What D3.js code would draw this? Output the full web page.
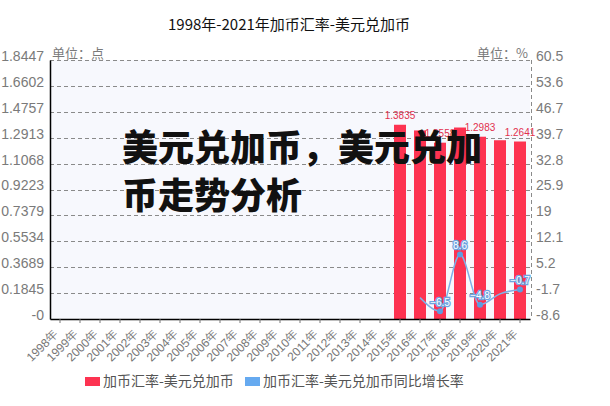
<!DOCTYPE html>
<html><head><meta charset="utf-8">
<script src="https://cdn.jsdelivr.net/npm/d3@7/dist/d3.min.js"></script>
<style>
body{margin:0;background:#fff;}
svg{display:block;}
</style></head>
<body>
<svg id="chart" width="610" height="406"></svg>
<script>
const years = ['1998年','1999年','2000年','2001年','2002年','2003年','2004年','2005年','2006年','2007年','2008年','2009年','2010年','2011年','2012年','2013年','2014年','2015年','2016年','2017年','2018年','2019年','2020年','2021年'];
const rateValues = [null,null,null,null,null,null,null,null,null,null,null,null,null,null,null,null,null,1.3835,1.3431,1.2558,1.3638,1.2983,1.2732,1.2641];
const growthValues = [null,null,null,null,null,null,null,null,null,null,null,null,null,null,null,null,null,null,-2.9,-6.5,8.6,-4.8,-1.9,-0.7];
const leftTickLabels = ['-0','0.1845','0.3689','0.5534','0.7379','0.9223','1.1068','1.2913','1.4757','1.6602','1.8447'];
const rightTickLabels = ['-8.6','-1.7','5.2','12.1','19','25.9','32.8','39.7','46.7','53.6','60.5'];
const leftDomain = [0, 1.8447];
const rightDomain = [-8.6, 60.5];
const titleText = '1998年-2021年加币汇率-美元兑加币';
const seriesNames = ['加币汇率-美元兑加币','加币汇率-美元兑加币同比增长率'];
const overlayLines = ['美元兑加币，美元兑加','币走势分析'];

const svg = d3.select('#chart');
const L = 50, R = 530, T = 60, B = 319;
const barColor = '#fd3351', lineColor = '#7fb0e6', pointColor = '#5d9de0';
const font = '"Liberation Sans", Arial, sans-serif';
const cjk = '"Noto Sans CJK SC", "Liberation Sans", sans-serif';

const x = d3.scaleBand().domain(years).range([L, R]).paddingInner(0.4).paddingOuter(0.2);
const yL = d3.scaleLinear().domain(leftDomain).range([B, T]);
const yR = d3.scaleLinear().domain(rightDomain).range([B, T]);
const nT = leftTickLabels.length;
const lTicks = d3.range(nT).map(i => leftDomain[0] + i * (leftDomain[1] - leftDomain[0]) / (nT - 1));
const rTicks = d3.range(nT).map(i => rightDomain[0] + i * (rightDomain[1] - rightDomain[0]) / (nT - 1));

// title
svg.append('text').attr('x', 289).attr('y', 30).attr('text-anchor', 'middle')
  .style('font-family', cjk).style('font-size', '15px').attr('fill', '#111').text(titleText);

// plot background
svg.append('rect').attr('x', L).attr('y', T).attr('width', R - L).attr('height', B - T).attr('fill', '#f7f8fd');

// grid
svg.append('g').selectAll('line').data(lTicks.slice(1)).join('line')
  .attr('x1', L).attr('x2', R + 1).attr('y1', d => Math.round(yL(d)) + 0.5).attr('y2', d => Math.round(yL(d)) + 0.5)
  .attr('stroke', '#8a8a8a').attr('stroke-dasharray', '4,3');
svg.append('line').attr('x1', R + 1.5).attr('x2', R + 1.5).attr('y1', T).attr('y2', B)
  .attr('stroke', '#8a8a8a').attr('stroke-dasharray', '4,3');

// bars
const rows = years.map((y, i) => ({ year: y, rate: rateValues[i], growth: growthValues[i] }));
svg.append('g').selectAll('rect').data(rows.filter(d => d.rate != null)).join('rect')
  .attr('x', d => x(d.year)).attr('width', x.bandwidth())
  .attr('y', d => yL(d.rate)).attr('height', d => B - yL(d.rate)).attr('fill', barColor);

// axes
const gL = svg.append('g').attr('transform', `translate(${L},0)`)
  .call(d3.axisLeft(yL).tickValues(lTicks).tickFormat((d, i) => leftTickLabels[i]).tickSize(0).tickPadding(6));
gL.select('.domain').attr('stroke', '#000').attr('stroke-width', 1.5);
gL.selectAll('text').style('font-family', font).style('font-size', '14px').attr('fill', '#7a7a7a').attr('y', -4);

const gR = svg.append('g').attr('transform', `translate(${R + 1},0)`)
  .call(d3.axisRight(yR).tickValues(rTicks).tickFormat((d, i) => rightTickLabels[i]).tickSize(0).tickPadding(5));
gR.select('.domain').remove();
gR.selectAll('text').style('font-family', font).style('font-size', '14px').attr('fill', '#7a7a7a').attr('y', -4);

const gB = svg.append('g').attr('transform', `translate(0,${B})`)
  .call(d3.axisBottom(x).tickSize(4).tickSizeOuter(0));
gB.select('.domain').attr('stroke', '#000').attr('stroke-width', 1.5);
gB.selectAll('.tick line').attr('stroke', '#777');
gB.selectAll('text').style('font-family', font).style('font-size', '12px').attr('fill', '#777')
  .attr('text-anchor', 'end').attr('dy', '0.35em')
  .attr('transform', 'translate(-4,13) rotate(-45)').attr('y', 0).attr('x', 0);

// units
svg.append('text').attr('x', 52).attr('y', 58).style('font-family', cjk).style('font-size', '13px').attr('fill', '#7a7a7a').text('单位：点');
svg.append('text').attr('x', 528).attr('y', 58).attr('text-anchor', 'end').style('font-family', cjk).style('font-size', '13px').attr('fill', '#7a7a7a').text('单位：%');

// label collision (greedy from last point)
function pickVisible(items, w, h) {
  const shown = [];
  for (let i = items.length - 1; i >= 0; i--) {
    const a = items[i];
    const hit = shown.some(b => Math.abs(a.cx - b.cx) < w && Math.abs(a.cy - b.cy) < h);
    if (!hit) { a.show = true; shown.push(a); } else a.show = false;
  }
  return items;
}

// bar labels
const barLabs = pickVisible(rows.filter(d => d.rate != null).map(d => ({
  cx: x(d.year) + x.bandwidth() / 2, cy: yL(d.rate) - 9, text: d.rate.toFixed(4)
})), 32, 16);
svg.append('g').selectAll('text').data(barLabs.filter(d => d.show)).join('text')
  .attr('x', d => d.cx).attr('y', d => d.cy).attr('text-anchor', 'middle').attr('dy', '0.35em')
  .style('font-family', font).style('font-size', '10px').attr('fill', '#e2304e').text(d => d.text);

// line
const lineRows = rows.filter(d => d.growth != null);
svg.append('path').datum(lineRows)
  .attr('d', d3.line().x(d => x(d.year) + x.bandwidth() / 2).y(d => yR(d.growth)).curve(d3.curveMonotoneX))
  .attr('fill', 'none').attr('stroke', lineColor).attr('stroke-width', 1.5);

const lineLabs = pickVisible(lineRows.map(d => ({
  px: x(d.year) + x.bandwidth() / 2, py: yR(d.growth),
  cx: x(d.year) + x.bandwidth() / 2, cy: yR(d.growth) - 9, text: d3.format('.1f')(d.growth)
})), 22, 16);
const vis = lineLabs.filter(d => d.show);
svg.append('g').selectAll('circle').data(vis).join('circle')
  .attr('cx', d => d.px).attr('cy', d => d.py).attr('r', 3).attr('fill', pointColor);
svg.append('g').selectAll('text').data(vis).join('text')
  .attr('x', d => d.cx).attr('y', d => d.cy).attr('text-anchor', 'middle').attr('dy', '0.35em')
  .style('font-family', font).style('font-size', '10px')
  .attr('fill', '#fff').attr('stroke', '#6ea4e0').attr('stroke-width', 2.5).attr('paint-order', 'stroke')
  .text(d => d.text);

// legend
const leg = svg.append('g');
const legX = [85, 245];
const legColors = [barColor, '#66aaf0'];
seriesNames.forEach((n, i) => {
  leg.append('rect').attr('x', legX[i]).attr('y', 377).attr('width', 15).attr('height', 9).attr('fill', legColors[i]);
  leg.append('text').attr('x', legX[i] + 18).attr('y', 386).style('font-family', cjk).style('font-size', '14px')
    .attr('fill', '#555').text(n);
});

// overlay headline
overlayLines.forEach((t, i) => {
  svg.append('text').attr('x', 122).attr('y', 161 + i * 48)
    .style('font-family', cjk).style('font-size', '36px').style('font-weight', 900)
    .attr('fill', '#111').text(t);
});
</script>
</body></html>
